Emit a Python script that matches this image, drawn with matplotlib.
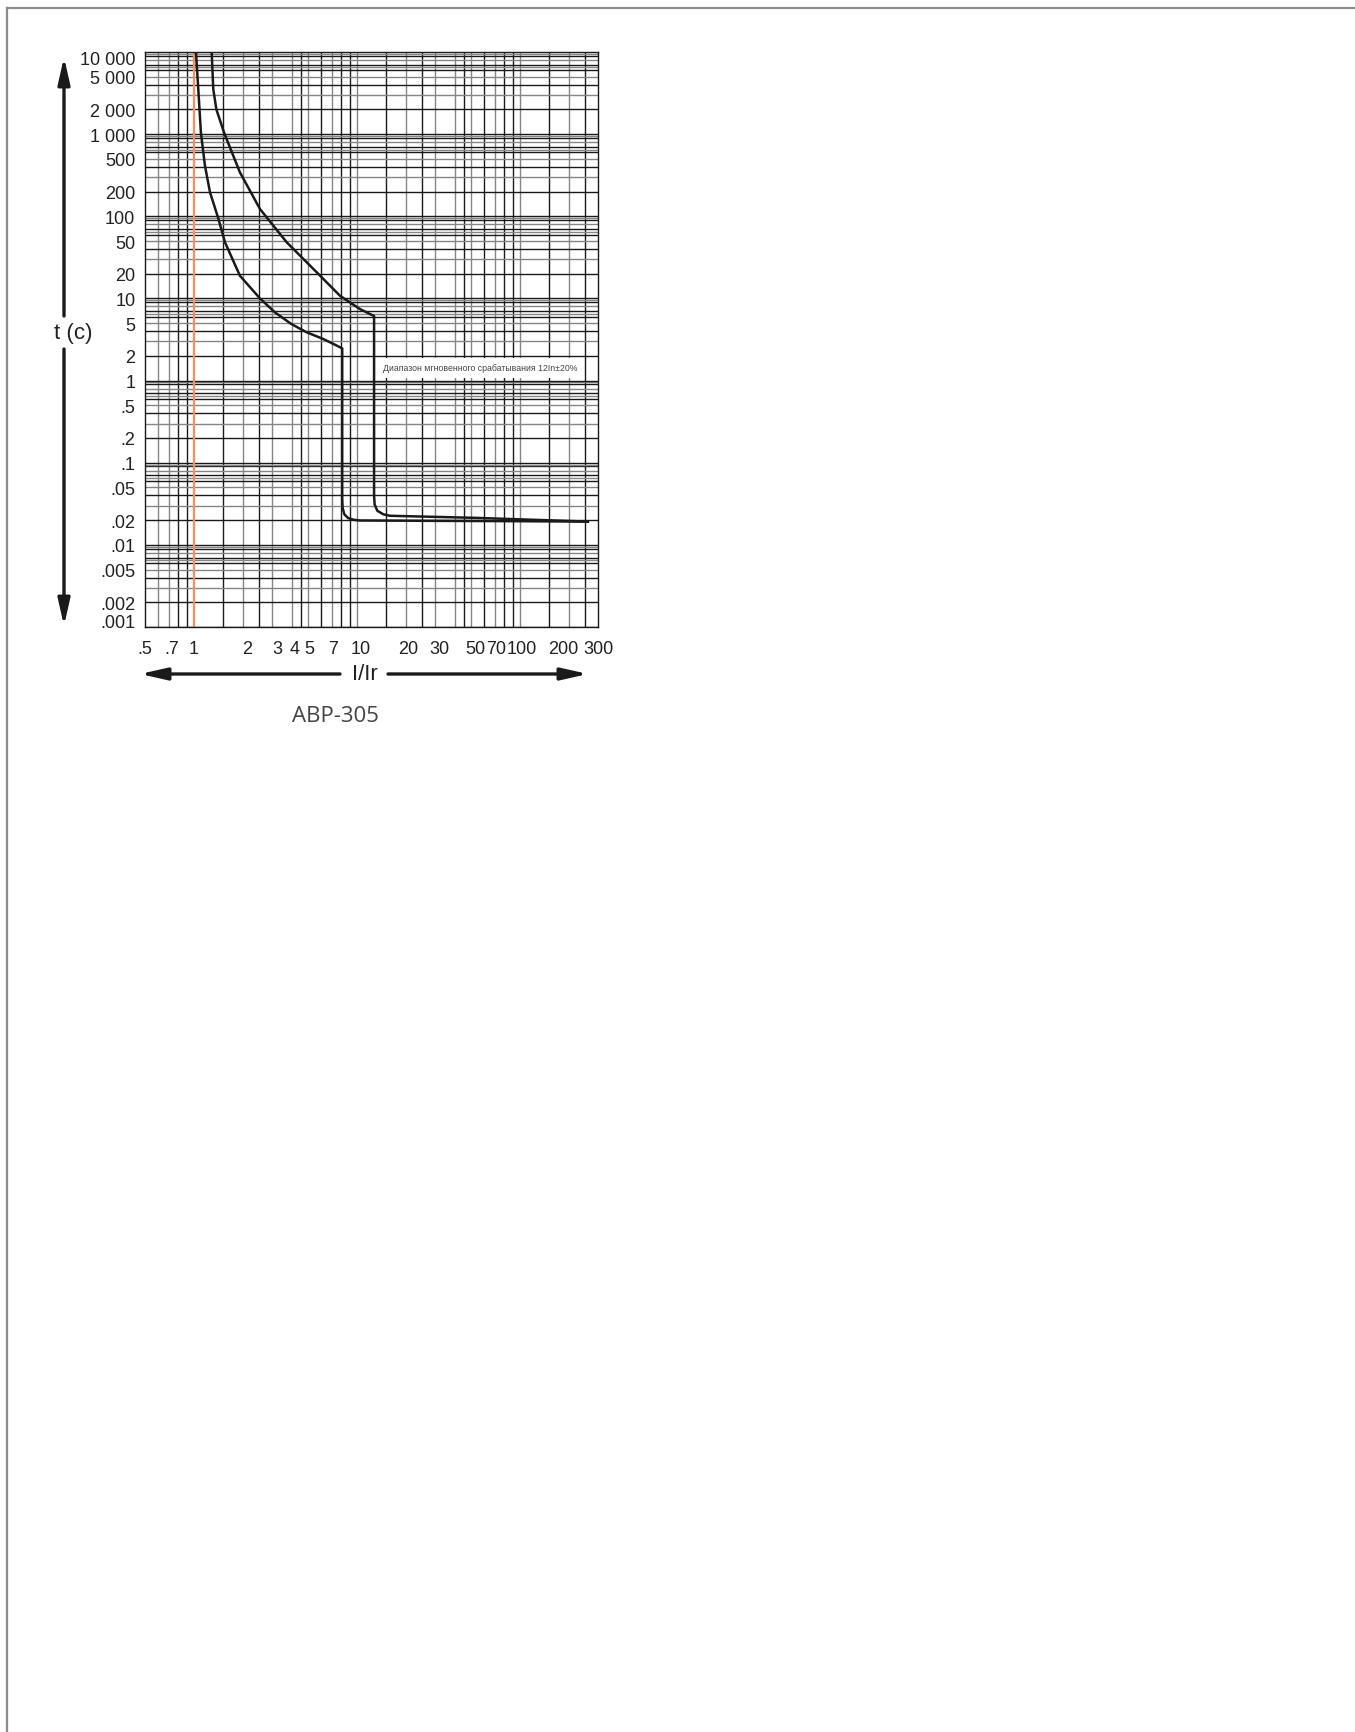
import matplotlib.pyplot as plt
from matplotlib.lines import Line2D
from matplotlib.transforms import ScaledTranslation
import numpy as np

W, H = 1355, 1733

# tripping curves (I/Ir, t in seconds)
lower_x = [1.027, 1.061, 1.102, 1.166, 1.252, 1.407, 1.547, 1.91, 2.535, 3.13, 3.95, 4.9, 6.2, 8.1,
           8.1, 8.15, 8.35, 8.8, 9.5, 10.4, 30, 100, 260]
lower_t = [10000, 3543, 1024, 413, 196, 94.5, 48.2, 18.9, 10.0, 6.78, 4.88, 3.87, 3.21, 2.47,
           0.036, 0.028, 0.0235, 0.0212, 0.0202, 0.0198, 0.0196, 0.0194, 0.0192]

upper_x = [1.282, 1.311, 1.37, 1.532, 1.91, 2.535, 3.70, 5.65, 7.84, 10.4, 12.7,
           12.7, 12.8, 13.3, 14.5, 15.9, 54, 260]
upper_t = [10000, 3543, 2000, 1024, 343, 122.7, 48.2, 20.8, 10.8, 7.43, 6.1,
           0.04, 0.031, 0.026, 0.0235, 0.0226, 0.0213, 0.0192]

x_ticks = [0.5, 0.7, 1, 2, 3, 4, 5, 7, 10, 20, 30, 50, 70, 100, 200, 300]
x_labels = ['.5', '.7', '1', '2', '3', '4', '5', '7', '10', '20', '30', '50', '70', '100', '200', '300']
y_ticks = [0.001, 0.002, 0.005, 0.01, 0.02, 0.05, 0.1, 0.2, 0.5, 1, 2, 5, 10, 20, 50,
           100, 200, 500, 1000, 2000, 5000, 10000]
y_labels = ['.001', '.002', '.005', '.01', '.02', '.05', '.1', '.2', '.5', '1', '2', '5', '10', '20', '50',
            '100', '200', '500', '1 000', '2 000', '5 000', '10 000']

# small nudges (px) of the labels, as printed on the original sheet
x_label_shift = [0, 3, 0, 4, 5, 2, 1, 1, 4, 2, 4, 4, 1, 2, -6, 0]
y_end_shift = {0: 6, -1: -5}

DARK = '#1a1a1a'
GRAY = '#858585'

plt.rcParams['font.family'] = ['Liberation Sans', 'DejaVu Sans']

fig = plt.figure(figsize=(W / 100, H / 100), dpi=100)
ax = fig.add_axes([145 / W, 1 - 628 / H, 453 / W, 575 / H])
ax.set_xscale('log')
ax.set_yscale('log')
ax.set_xlim(0.5, 300)
ax.set_ylim(0.001, 10000)

# grid: vertical lines
v_mult = [1.5, 2, 2.5, 3, 4, 4.5, 5, 6, 7, 8, 9]
v_col = [DARK, GRAY, DARK, GRAY, GRAY, DARK, GRAY, DARK, GRAY, DARK, DARK]
for m, c in zip([0.6, 0.7, 0.8, 0.9], [GRAY, GRAY, DARK, DARK]):
    ax.axvline(m, color=c, lw=1.0, zorder=1)
for dec in [1, 10, 100]:
    if dec > 1:
        ax.axvline(dec, color=GRAY, lw=1.0, zorder=1)
    for m, c in zip(v_mult, v_col):
        if m * dec < 300:
            ax.axvline(m * dec, color=c, lw=1.0, zorder=1)

# grid: horizontal lines
h_mult = [2, 3, 4, 5, 6, 6.5, 7, 8, 9, 9.5]
h_col = [DARK, GRAY, DARK, GRAY, DARK, GRAY, DARK, GRAY, DARK, GRAY]
for e in range(-3, 4):
    dec = 10.0 ** e
    ax.axhline(dec, color=DARK, lw=1.0, zorder=1)
    for m, c in zip(h_mult, h_col):
        ax.axhline(m * dec, color=c, lw=1.0, zorder=1)

ax.axvline(1, color='#f2915f', lw=1.6, zorder=2)

ax.plot(lower_x, lower_t, color=DARK, lw=1.8, zorder=4, solid_joinstyle='round')
ax.plot(upper_x, upper_t, color=DARK, lw=1.8, zorder=4, solid_joinstyle='round')

ax.text(57, 1.43, 'Диапазон мгновенного срабатывания 12In±20%', fontsize=6.3, color='#444444',
        ha='center', va='center', zorder=5,
        bbox=dict(boxstyle='square,pad=0.6', fc='white', ec='none'))

ax.set_xticks(x_ticks)
ax.set_xticklabels(x_labels)
ax.set_yticks(y_ticks)
ax.set_yticklabels(y_labels)
ax.minorticks_off()
ax.tick_params(length=0, labelsize=13, colors='#222222')
ax.tick_params(axis='x', pad=9)
ax.tick_params(axis='y', pad=7)
for lab, dx in zip(ax.get_xticklabels(), x_label_shift):
    lab.set_transform(lab.get_transform() + ScaledTranslation(dx / 100, 0, fig.dpi_scale_trans))
yl = ax.get_yticklabels()
for i, dy in y_end_shift.items():
    yl[i].set_transform(yl[i].get_transform() + ScaledTranslation(0, dy / 100, fig.dpi_scale_trans))
for s in ax.spines.values():
    s.set_color(DARK)
    s.set_linewidth(1.0)

# axis arrows and labels
arrow = dict(arrowstyle='-|>,head_length=0.8,head_width=0.18', lw=2.4, color=DARK,
             mutation_scale=20, shrinkA=0, shrinkB=0)
ax.annotate('', xy=(64, H - 58), xytext=(64, H - 317), xycoords='figure pixels', arrowprops=arrow)
ax.annotate('', xy=(64, H - 627), xytext=(64, H - 350), xycoords='figure pixels', arrowprops=arrow)
ax.annotate('', xy=(140, H - 675), xytext=(340, H - 675), xycoords='figure pixels', arrowprops=arrow)
ax.annotate('', xy=(588, H - 675), xytext=(388, H - 675), xycoords='figure pixels', arrowprops=arrow)

fig.text(73 / W, 1 - 333 / H, 't (c)', fontsize=16, color='#222222', ha='center', va='center')
fig.text(365 / W, 1 - 674 / H, 'I/Ir', fontsize=16, color='#222222', ha='center', va='center')
fig.text(335 / W, 1 - 716 / H, 'ABP-305', fontsize=16, color='#444444', ha='center', va='center',
         family=['Open Sans', 'DejaVu Sans'])

# page frame (left and top edges)
fig.add_artist(Line2D([7 / W, 7 / W], [0, 1 - 9 / H], transform=fig.transFigure, color='#8c8c8c', lw=1.6))
fig.add_artist(Line2D([7 / W, 1], [1 - 9 / H, 1 - 9 / H], transform=fig.transFigure, color='#8c8c8c', lw=1.6))

fig.savefig('out.png', dpi=100, facecolor='white')
